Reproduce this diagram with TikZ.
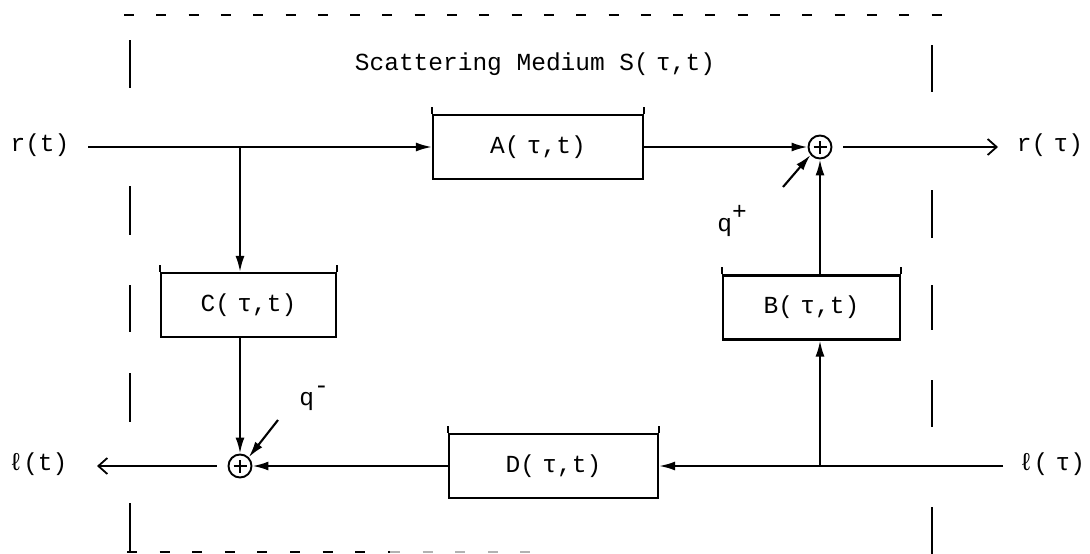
\documentclass[tikz,border=0pt]{standalone}
\usepackage{fontspec}
\setmainfont{Liberation Mono}
\usetikzlibrary{arrows.meta}
\begin{document}
\begin{tikzpicture}[x=1pt,y=-1pt,
  wire/.style={line width=2.1pt},
  arr/.style={wire,-{Latex[length=16pt,width=9pt]}},
  opn/.style={wire,-{Straight Barb[length=9pt,width=16pt,line width=1.8pt]}},
  blk/.style={draw,line width=2.1pt,minimum width=#1,minimum height=64pt,inner sep=0pt,
    font=\fontsize{24.5}{24.5}\selectfont,
    append after command={(\tikzlastnode.north west) edge[line width=2.1pt] ++(0,7pt)
                          (\tikzlastnode.north east) edge[line width=2.1pt] ++(0,7pt)}},
  sum/.style={circle,draw,line width=1.9pt,minimum size=23pt,inner sep=0pt,
    path picture={\draw[line width=1.6pt]
      ([xshift=-6.5pt]path picture bounding box.center) -- ([xshift=6.5pt]path picture bounding box.center)
      ([yshift=-6.5pt]path picture bounding box.center) -- ([yshift=6.5pt]path picture bounding box.center);}},
  lbl/.style={font=\fontsize{24.5}{24.5}\selectfont,inner sep=0pt},
  bnd/.style={line width=1.8pt},
]
\useasboundingbox (0,0) rectangle (1090,554);

% boundary of the scattering medium
\draw[bnd,dash pattern=on 10pt off 22.3pt] (124,15) -- (944,15);
\draw[bnd,dash pattern=on 10pt off 22.6pt] (127,552) -- (390,552);
\draw[bnd,gray!60,dash pattern=on 10pt off 22.6pt] (390,552) -- (530,552);
\foreach \a/\b in {40/88,186/235,285/332,373/422,503/552}
  \draw[bnd] (130,\a) -- (130,\b);
\foreach \a/\b in {45/92,190/238,285/330,380/427,507/554}
  \draw[bnd] (932,\a) -- (932,\b);

\node[lbl] (title) at (535,64) {Scattering Medium S(\hspace{0.3em}τ,t)};

% blocks
\node[blk=210pt] (A) at (538,147) {A(\hspace{0.3em}τ,t)};
\node[blk=175pt] (C) at (248.5,305) {C(\hspace{0.3em}τ,t)};
\node[blk=177pt] (B) at (811.5,307.5) {B(\hspace{0.3em}τ,t)};
\node[blk=209pt] (D) at (553.5,466) {D(\hspace{0.3em}τ,t)};

% summing junctions
\node[sum] (s1) at (820,147) {};
\node[sum] (s2) at (240,466) {};

% labels
\node[lbl] (rt) at (40,145) {r(t)};
\node[lbl] (rtau) at (1050,145) {r(\hspace{0.3em}τ)};
\node[lbl] (lt) at (38,464) {ℓ(t)};
\node[lbl] (ltau) at (1052,464) {ℓ(\hspace{0.3em}τ)};
\node[lbl] (qp) at (732,221) {q\raisebox{0.5em}{+}};
\node[lbl] (qm) at (314,398) {q\raisebox{0.5em}{-}};

% free ends and junction points
\coordinate (rin) at (88,147);
\coordinate (rout) at (998,147);
\coordinate (lin) at (1003,466);
\coordinate (lout) at (97,466);
\coordinate (j1) at (240,147);
\coordinate (j2) at (820,466);
\coordinate (qps) at (783,187);
\coordinate (qms) at (278,420);

% connectors
\draw[arr] (rin) -- (A.west);
\draw[arr] (j1) -- (C.north -| j1);
\draw[arr] (A.east) -- (s1.west);
\draw[opn,shorten <=11pt] (s1) -- (rout);
\draw[arr] (B.north -| s1) -- (s1.south);
\draw[arr] (j2) -- (B.south -| j2);
\draw[arr] (lin) -- (D.east);
\draw[arr] (D.west) -- (s2.east);
\draw[arr] (C.south -| s2) -- (s2.north);
\draw[opn,shorten <=11pt] (s2) -- (lout);
\draw[arr] (qps) -- (s1.220);
\draw[arr] (qms) -- (s2.45);
\end{tikzpicture}
\end{document}
